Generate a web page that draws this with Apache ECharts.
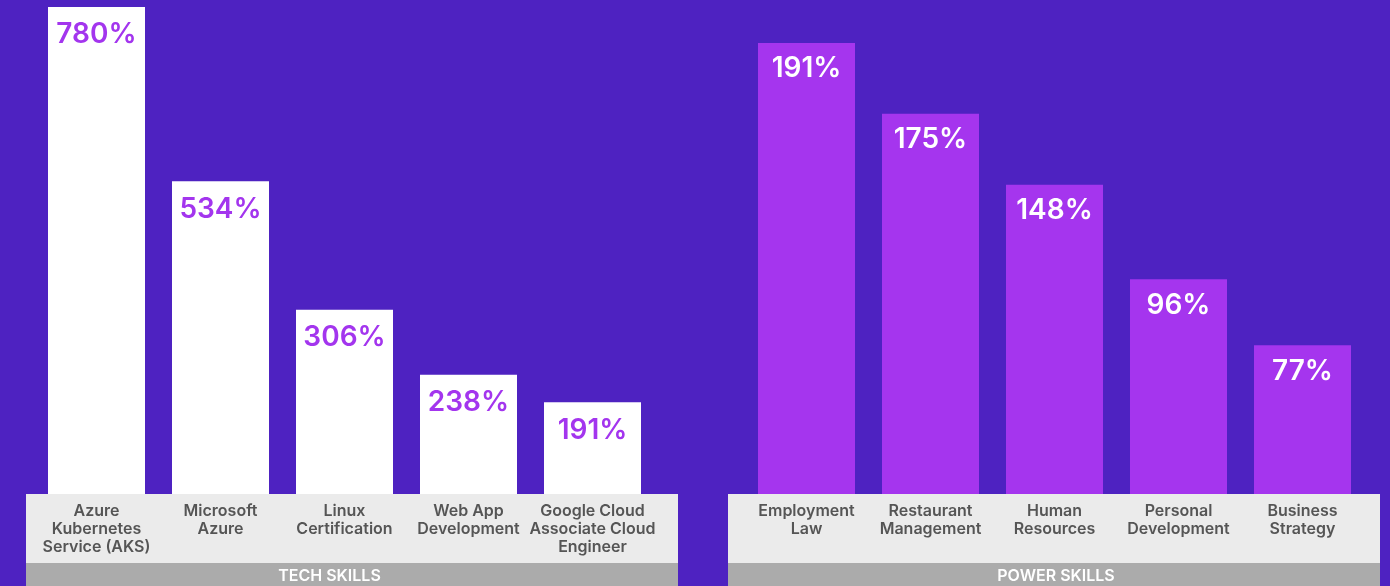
<!DOCTYPE html>
<html>
<head>
<meta charset="utf-8">
<script src="https://cdn.jsdelivr.net/npm/echarts@6/dist/echarts.min.js"></script>
<style>
html,body{margin:0;padding:0;background:#4E22C1;}
#c{width:1390px;height:586px;}
</style>
</head>
<body>
<div id="c"></div>
<script>
// Data
const techCategories = ['Azure\nKubernetes\nService (AKS)', 'Microsoft\nAzure', 'Linux\nCertification', 'Web App\nDevelopment', 'Google Cloud\nAssociate Cloud\nEngineer'];
const techValues = [780, 534, 306, 238, 191];            // labelled growth (%)
const techBarLengths = [780, 501, 295, 191, 147];        // drawn bar lengths (axis max 780)
const powerCategories = ['Employment\nLaw', 'Restaurant\nManagement', 'Human\nResources', 'Personal\nDevelopment', 'Business\nStrategy'];
const powerValues = [191, 175, 148, 96, 77];             // labelled growth (%)
const powerBarLengths = [191, 161, 131, 91, 63];         // drawn bar lengths (axis max 206)
const groupTitles = ['TECH SKILLS', 'POWER SKILLS'];

const FONT = 'Inter, "Noto Sans", sans-serif';
const chart = echarts.init(document.getElementById('c'));

function xAxisFor(idx, cats) {
  return {
    type: 'category', gridIndex: idx, data: cats, z: 10,
    axisLine: {show: false}, axisTick: {show: false},
    axisLabel: {interval: 0, margin: 8, color: '#555555', fontFamily: FONT, fontSize: 16, fontWeight: 600, lineHeight: 18}
  };
}
function yAxisFor(idx, max) {
  return {type: 'value', gridIndex: idx, min: 0, max: max, show: false, splitLine: {show: false}};
}

chart.setOption({
  backgroundColor: '#4E22C1',
  animation: false,
  grid: [
    {left: 34.5, width: 620, top: 7, height: 487},
    {left: 744.5, width: 620, top: 7, height: 487}
  ],
  xAxis: [xAxisFor(0, techCategories), xAxisFor(1, powerCategories)],
  yAxis: [yAxisFor(0, 780), yAxisFor(1, 206.25)],
  graphic: [
    {type: 'rect', shape: {x: 26, y: 494, width: 652, height: 69}, style: {fill: '#EBEBEB'}, z: 1},
    {type: 'rect', shape: {x: 26, y: 563, width: 652, height: 23}, style: {fill: '#ABABAB'}, z: 1},
    {type: 'rect', shape: {x: 728, y: 494, width: 652, height: 69}, style: {fill: '#EBEBEB'}, z: 1},
    {type: 'rect', shape: {x: 728, y: 563, width: 652, height: 23}, style: {fill: '#ABABAB'}, z: 1},
    {type: 'text', x: 329.5, y: 576, z: 2, style: {text: groupTitles[0], fill: '#fff', font: '600 16px ' + FONT, textAlign: 'center', textVerticalAlign: 'middle'}},
    {type: 'text', x: 1056, y: 576, z: 2, style: {text: groupTitles[1], fill: '#fff', font: '600 16px ' + FONT, textAlign: 'center', textVerticalAlign: 'middle'}}
  ],
  series: [
    {
      type: 'bar', xAxisIndex: 0, yAxisIndex: 0, data: techBarLengths, barWidth: 97,
      itemStyle: {color: '#FFFFFF'},
      label: {show: true, position: 'insideTop', distance: 14, color: '#A335EE', fontFamily: FONT, fontSize: 28, fontWeight: 600,
        formatter: p => techValues[p.dataIndex] + '%'}
    },
    {
      type: 'bar', xAxisIndex: 1, yAxisIndex: 1, data: powerBarLengths, barWidth: 97,
      itemStyle: {color: '#A535EE'},
      label: {show: true, position: 'insideTop', distance: 12, color: '#FFFFFF', fontFamily: FONT, fontSize: 28, fontWeight: 600,
        formatter: p => powerValues[p.dataIndex] + '%'}
    }
  ]
});
</script>
</body>
</html>
